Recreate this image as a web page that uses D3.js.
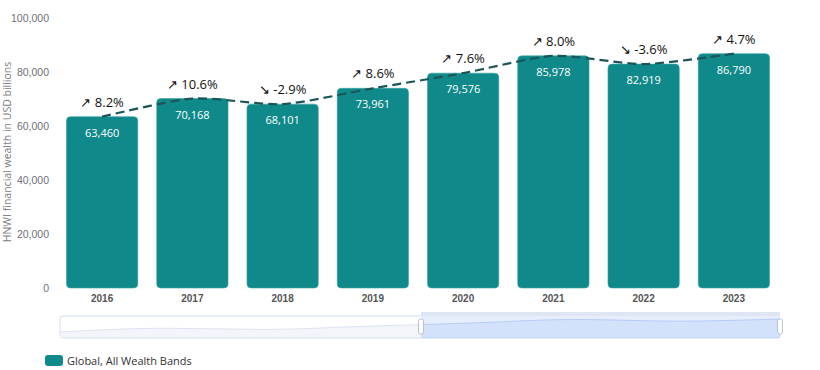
<!DOCTYPE html>
<html>
<head>
<meta charset="utf-8">
<script src="https://cdn.jsdelivr.net/npm/d3@7"></script>
<style>
  body { margin: 0; background: #fff; }
  svg { font-family: "Open Sans", "Noto Sans", sans-serif; }
</style>
</head>
<body>
<div id="chart"></div>
<script>
// chart values
var years = ["2016", "2017", "2018", "2019", "2020", "2021", "2022", "2023"];
var wealth = [63460, 70168, 68101, 73961, 79576, 85978, 82919, 86790];
var growth = ["↗ 8.2%", "↗ 10.6%", "↘ -2.9%", "↗ 8.6%", "↗ 7.6%", "↗ 8.0%", "↘ -3.6%", "↗ 4.7%"];
var yTicks = [0, 20000, 40000, 60000, 80000, 100000];

var formatNumber = d3.format(",");
var W = 820, H = 370;
var plot = {left: 57, right: 779, top: 18, bottom: 288};

var svg = d3.select("#chart").append("svg")
    .attr("width", W)
    .attr("height", H);

var xScale = d3.scaleBand()
    .domain(years)
    .range([plot.left, plot.right])
    .paddingInner(0.21)
    .paddingOuter(0.105);

var yScale = d3.scaleLinear()
    .domain([0, 100000])
    .range([plot.bottom, plot.top]);

// y axis labels (no line, no grid)
var yAxis = svg.append("g")
    .attr("transform", "translate(" + (plot.left - 5) + ",0)")
    .call(d3.axisLeft(yScale).tickValues(yTicks).tickFormat(formatNumber).tickSize(0));
yAxis.select(".domain").remove();
yAxis.selectAll("text")
    .attr("fill", "#6e7079")
    .style("font-size", "10.5px");

svg.append("text")
    .attr("transform", "translate(11,152) rotate(-90)")
    .attr("text-anchor", "middle")
    .attr("fill", "#7a7c84")
    .style("font-size", "10.5px")
    .text("HNWI financial wealth in USD billions");

// x axis
var xAxis = svg.append("g")
    .attr("transform", "translate(0," + (plot.bottom + 4) + ")")
    .call(d3.axisBottom(xScale).tickSize(0));
xAxis.select(".domain").remove();
xAxis.selectAll("text")
    .attr("fill", "#555")
    .style("font-size", "10px")
    .style("font-weight", "bold");

// bars
svg.append("g").selectAll("path")
    .data(years)
    .enter().append("path")
    .attr("fill", "#10898a")
    .attr("stroke", "#3aa3a3")
    .attr("stroke-width", 0.6)
    .attr("d", function(d, i) {
        var x = xScale(d), w = xScale.bandwidth();
        var y = yScale(wealth[i]), b = yScale(0), r = 4;
        var p = d3.path();
        p.moveTo(x, y + r);
        p.arcTo(x, y, x + r, y, r);
        p.lineTo(x + w - r, y);
        p.arcTo(x + w, y, x + w, y + r, r);
        p.lineTo(x + w, b - r);
        p.arcTo(x + w, b, x + w - r, b, r);
        p.lineTo(x + r, b);
        p.arcTo(x, b, x, b - r, r);
        p.closePath();
        return p.toString();
    });

// value labels inside bars
svg.append("g").selectAll("text")
    .data(years)
    .enter().append("text")
    .attr("x", d => xScale(d) + xScale.bandwidth() / 2)
    .attr("y", (d, i) => yScale(wealth[i]) + 20)
    .attr("text-anchor", "middle")
    .attr("fill", "#ffffff")
    .style("font-size", "11px")
    .text((d, i) => formatNumber(wealth[i]));

// dashed trend line
var line = d3.line()
    .x((d, i) => xScale(years[i]) + xScale.bandwidth() / 2)
    .y(d => yScale(d))
    .curve(d3.curveCardinal.tension(0.3));

svg.append("path")
    .datum(wealth)
    .attr("fill", "none")
    .attr("stroke", "#1b5558")
    .attr("stroke-width", 2.2)
    .attr("stroke-dasharray", "9,5")
    .attr("d", line);

// growth labels
svg.append("g").selectAll("text")
    .data(years)
    .enter().append("text")
    .attr("x", d => xScale(d) + xScale.bandwidth() / 2)
    .attr("y", (d, i) => yScale(wealth[i]) - 10)
    .attr("text-anchor", "middle")
    .attr("fill", "#111")
    .style("font-size", "13px")
    .text((d, i) => growth[i]);

// data zoom slider
var sl = {left: 60, right: 780, top: 316, bottom: 338};
var selStart = 421, selEnd = 780;

var sx = d3.scalePoint().domain(years).range([sl.left, sl.right]);
var sy = d3.scaleLinear().domain(d3.extent(wealth)).range([sl.bottom - 6, sl.top + 3]);

var slider = svg.append("g");
slider.append("rect")
    .attr("x", sl.left).attr("y", sl.top)
    .attr("width", sl.right - sl.left).attr("height", sl.bottom - sl.top)
    .attr("rx", 3)
    .attr("fill", "#fff")
    .attr("stroke", "#d2dbee");

var shadowArea = d3.area()
    .x((d, i) => sx(years[i]))
    .y0(sl.bottom)
    .y1(d => sy(d))
    .curve(d3.curveMonotoneX);

slider.append("clipPath").attr("id", "clip-left")
    .append("rect").attr("x", sl.left).attr("y", sl.top)
    .attr("width", selStart - sl.left).attr("height", sl.bottom - sl.top);
slider.append("clipPath").attr("id", "clip-right")
    .append("rect").attr("x", selStart).attr("y", sl.top)
    .attr("width", selEnd - selStart).attr("height", sl.bottom - sl.top);

slider.append("path").datum(wealth)
    .attr("clip-path", "url(#clip-left)")
    .attr("fill", "#f3f5fa")
    .attr("stroke", "#dde3f0")
    .attr("d", shadowArea);

slider.append("rect")
    .attr("x", selStart).attr("y", sl.top)
    .attr("width", selEnd - selStart).attr("height", sl.bottom - sl.top)
    .attr("fill", "#e6eefd");
slider.append("path").datum(wealth)
    .attr("clip-path", "url(#clip-right)")
    .attr("fill", "#d3e1fb")
    .attr("stroke", "#b7ccf7")
    .attr("d", shadowArea);

// move handle bar on top
slider.append("rect")
    .attr("x", selStart).attr("y", sl.top - 4)
    .attr("width", selEnd - selStart).attr("height", 4)
    .attr("fill", "#dfe6f3");

[selStart, selEnd].forEach(function(x) {
    slider.append("rect")
        .attr("x", x - 2.5).attr("y", sl.top + 3)
        .attr("width", 5).attr("height", 15)
        .attr("rx", 2)
        .attr("fill", "#fff")
        .attr("stroke", "#aab6cc")
        .attr("stroke-width", 0.8);
});

// legend
var legend = svg.append("g");
legend.append("rect")
    .attr("x", 45).attr("y", 355)
    .attr("width", 18).attr("height", 11)
    .attr("rx", 3)
    .attr("fill", "#10898a");
legend.append("text")
    .attr("x", 67).attr("y", 364.5)
    .attr("fill", "#333")
    .style("font-size", "11px")
    .text("Global, All Wealth Bands");
</script>
</body>
</html>
